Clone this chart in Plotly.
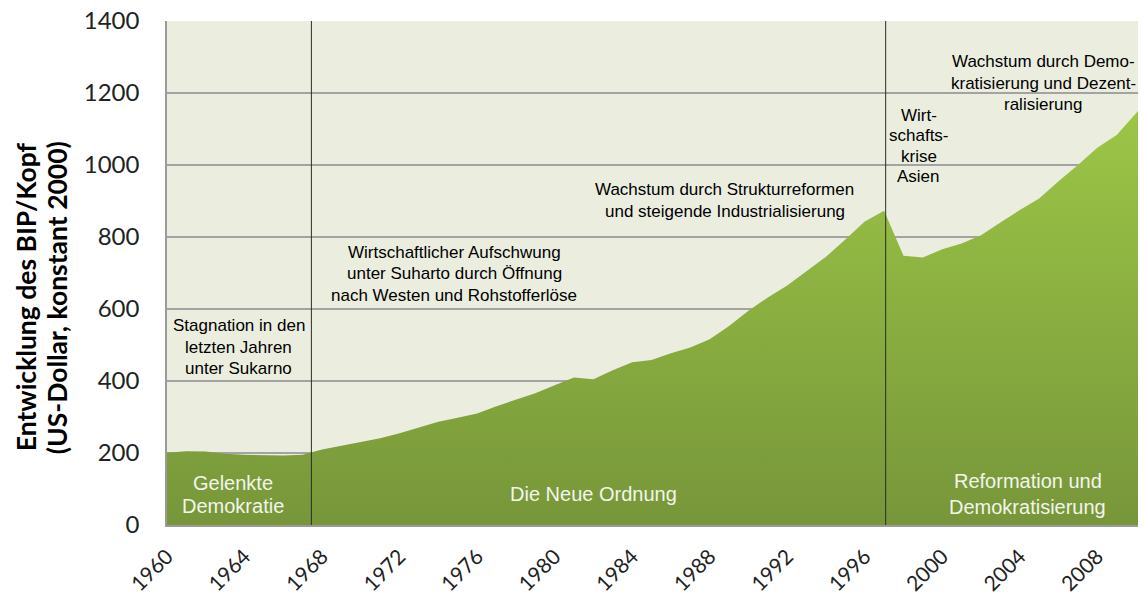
import plotly.graph_objects as go

# GDP per capita Indonesia [US$, constant 2000]
years = list(range(1960, 2012))
gdp = [201, 205, 204, 198, 195, 194, 193, 195, 210, 220,
       230, 241, 255, 272, 287, 298, 310, 330, 349, 366,
       388, 410, 405, 430, 452, 458, 477, 493, 516, 553,
       595, 632, 665, 705, 745, 793, 843, 873, 748, 743,
       766, 782, 805, 840, 875, 907, 955, 1000, 1048, 1083,
       1145, 1205]

# era boundaries (years)
era_bounds = [1967.45, 1997.08]

y_ticks = [0, 200, 400, 600, 800, 1000, 1200, 1400]
x_ticks = list(range(1960, 2010, 4))

PX = 504 / 1400  # pixels per US$ on the y axis

# text blocks: (year, value of first line, line gap [px], lines, white?, size)
notes = [
    (1963.70, 552.8, 21.2, ["Stagnation in den", "letzten Jahren", "unter Sukarno"], False, 17),
    (1963.38, 117.5, 23.3, ["Gelenkte", "Demokratie"], True, 20),
    (1974.81, 758.3, 21.5, ["Wirtschaftlicher Aufschwung", "unter Suharto durch Öffnung",
                            "nach Westen und Rohstofferlöse"], False, 17),
    (1982.01, 86.1, 0, ["Die Neue Ordnung"], True, 20),
    (1988.79, 933.3, 22.0, ["Wachstum durch Strukturreformen", "und steigende Industrialisierung"], False, 17),
    (1998.80, 1138.9, 20.6, ["Wirt-", "schafts-", "krise", "Asien"], False, 17),
    (2005.22, 1287.0, 21.65, ["Wachstum durch Demo-", "kratisierung und Dezent-", "ralisierung"], False, 17),
    (2004.40, 122.2, 26.0, ["Reformation und", "Demokratisierung"], True, 20),
]

fig = go.Figure()

fig.add_trace(go.Scatter(
    x=years, y=gdp,
    mode="lines",
    line=dict(width=0, color="#8fb441"),
    fill="tozeroy",
    fillgradient=dict(type="vertical",
                      colorscale=[[0, "#77963a"], [1, "#9ec847"]],
                      start=0, stop=1200),
    hoverinfo="x+y",
    showlegend=False,
))

for xb in era_bounds:
    fig.add_shape(type="line", x0=xb, x1=xb, y0=0, y1=1400,
                  xref="x", yref="y", line=dict(color="#2b2b2b", width=1))

for x, y0, gap, lines, white, size in notes:
    for i, line in enumerate(lines):
        fig.add_annotation(x=x, y=y0 - i * gap / PX, text=line, showarrow=False,
                           font=dict(family="Liberation Sans, Arial", size=size,
                                     color="#f2f5ea" if white else "black"),
                           xanchor="center", yanchor="middle")

# y axis title, two rotated lines
for xp, t in [(-0.1452, "Entwicklung des BIP/Kopf"), (-0.1133, "(US-Dollar, konstant 2000)")]:
    fig.add_annotation(x=xp, y=0.452, xref="paper", yref="paper", text="<b>" + t + "</b>",
                       textangle=-90, showarrow=False, xanchor="center", yanchor="middle",
                       font=dict(family="Lato", size=26.5, color="black"))

fig.update_layout(
    width=1130, height=590,
    margin=dict(l=159, r=0, t=13, b=73),
    paper_bgcolor="white",
    plot_bgcolor="#ebeedf",
    xaxis=dict(range=[1960, 2010.1],
               tickvals=x_ticks,
               ticktext=[str(v) for v in x_ticks],
               tickangle=-45,
               tickfont=dict(family="Lato", size=21, color="#222"),
               showgrid=False, zeroline=False, automargin=False,
               showline=True, linecolor="#9a9a9a", linewidth=2,
               ticks="outside", ticklen=9, tickcolor="rgba(0,0,0,0)"),
    yaxis=dict(range=[0, 1400],
               tickvals=y_ticks,
               tickfont=dict(family="Lato", size=24, color="#222"),
               ticklabelstandoff=21, ticklabeloverflow="allow",
               automargin=False,
               showgrid=True, gridcolor="#a3a3a3", gridwidth=1.5,
               zeroline=False,
               showline=True, linecolor="#9a9a9a", linewidth=1.5),
)

fig.write_html("out.html")
